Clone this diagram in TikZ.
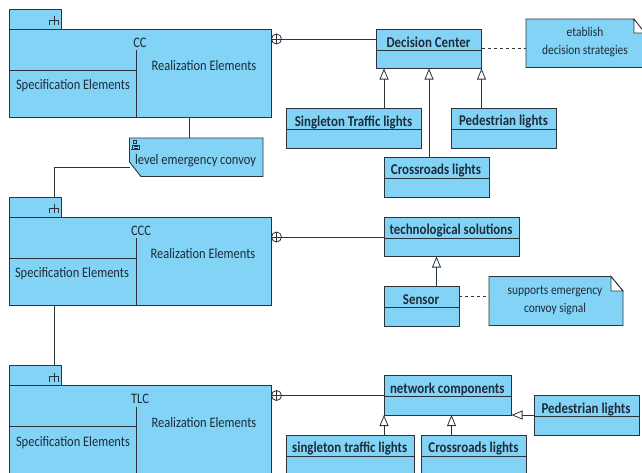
\documentclass[tikz,border=0pt]{standalone}
\usepackage{fontspec}
\setmainfont[FakeStretch=0.86]{Carlito}
\usetikzlibrary{arrows.meta,calc}
\definecolor{boxblue}{HTML}{83D3F6}
\definecolor{ink}{HTML}{2B343C}
\definecolor{txt}{HTML}{1C2C38}
\tikzset{
  x=1pt,y=-1pt,
  every node/.style={inner sep=0pt,outer sep=0pt},
  shape box/.style={draw=ink,fill=boxblue,line width=0.9pt,rectangle,anchor=north west},
  label txt/.style={font=\fontsize{14.5}{17}\selectfont,text=txt},
  title txt/.style={font=\bfseries\fontsize{15}{17}\selectfont,text=txt},
  note txt/.style={font=\fontsize{13.3}{18}\selectfont,text=txt,align=center},
  conn/.style={draw=ink,line width=0.9pt},
  dashline/.style={conn,dash pattern=on 3pt off 3pt},
  gen/.style={conn,-{Triangle[open,length=11pt,width=9pt,line width=0.8pt,fill=white]}},
  rake/.pic={\draw[ink,line width=0.8pt] (0,-4) -- (0,5) (-4.5,5) -- (-4.5,0) -- (4,0) -- (4,5);},
}
\newcommand{\component}[5]{% name, top y of tab, title, title x, realization x
  \node[shape box,minimum width=52pt,minimum height=20pt] (#1tab) at (9.5,#2) {};
  \node[shape box,minimum width=261.5pt,minimum height=88pt] (#1) at (9.5,#2+20) {};
  \pic at (54,#2+11) {rake};
  \draw[conn] (9.5,#2+61) -- (136,#2+61) (136,#2+41) -- (136,#2+108);
  \node[label txt] (#1title) at (#4,#2+33.5) {#3};
  \node[label txt] (#1real) at (#5,#2+57) {Realization Elements};
  \node[label txt] (#1spec) at (#5-131,#2+77) {Specification Elements};
}
\newcommand{\classbox}[6]{% name, x, y, width, height-to-divider, text
  \node[shape box,minimum width=#4pt,minimum height=39.5pt] (#1) at (#2,#3) {};
  \draw[conn] (#2,#3+#5) -- (#2+#4,#3+#5);
  \node[title txt] (#1text) at (#2+#4/2-0.5,#3+13.5) {#6};
}
\begin{document}
\begin{tikzpicture}
\useasboundingbox (0,0) rectangle (642,472);
\clip (0,0) rectangle (642,472);

% components
\component{cc}{9}{CC}{140}{204}
\component{ccc}{197}{CCC}{141}{203}
\component{tlc}{365.5}{TLC}{140}{204}

% classes
\classbox{dc}{376.5}{29}{105}{21}{Decision Center}
\classbox{st}{286.5}{108.5}{135}{21}{Singleton Traffic lights}
\classbox{cr}{384}{157.5}{105}{21}{Crossroads lights}
\classbox{pl}{451.5}{108.5}{105}{21}{Pedestrian lights}
\classbox{ts}{384}{217}{135}{21}{technological solutions}
\classbox{se}{384}{286.5}{75}{21}{Sensor}
\classbox{nc}{384}{375.5}{127.5}{21}{network components}
\classbox{pb}{534}{395.5}{105}{21}{Pedestrian lights}
\classbox{sb}{286.5}{435}{127.5}{21}{singleton traffic lights}
\classbox{cb}{421.5}{435}{105}{21}{Crossroads lights}

% level emergency convoy
\node[draw=none,minimum width=133.5pt,minimum height=38.5pt,anchor=north west] (lec) at (129.5,138) {};
\draw[conn,fill=boxblue] (129.5,138) -- (263,138) -- (263,176.5) -- (141,176.5) -- (129.5,162) -- cycle;
\node[label txt,anchor=west] (lectext) at (135,160.5) {level emergency convoy};
\node (lecicon) at (135,145.5) {};
\draw[ink,line width=0.7pt] (lecicon)+(-2,-5) -- +(1,-5) -- +(1,-2) -- +(-2,-2) -- cycle
  (lecicon)+(-4,4) -- +(5,4) (lecicon)+(-3,4) -- +(-3,0) -- +(4,0) -- +(4,4)
  (lecicon)+(-1,1) -- +(3,1) (lecicon)+(-1,2.5) -- +(3,2.5);

% notes
\coordinate (n1nw) at (526,19);
\coordinate (n2nw) at (489,276.5);
\draw[conn,fill=boxblue] (n1nw) -- (633,19) -- (645,33) -- (645,67.5) -- (526,67.5) -- cycle;
\draw[conn,fill=white] (634,19) -- (634,33) -- (645,33) -- cycle;
\node[note txt] (n1) at (585,42.5) {etablish\\decision strategies};
\draw[conn,fill=boxblue] (n2nw) -- (611,276.5) -- (623,291) -- (623,325.5) -- (489,325.5) -- cycle;
\draw[conn,fill=white] (611,276.5) -- (611,291) -- (623,291) -- cycle;
\node[note txt] (n2) at (555,300.5) {supports emergency\\convoy signal};

% containment connectors
\foreach \a/\b/\yy in {cc/dc/39,ccc/ts/237,tlc/nc/395.5}{
  \node[draw=ink,line width=0.8pt,circle,minimum size=10pt] (plus\a) at (276.5,\yy) {};
  \draw[ink,line width=0.8pt] (plus\a.north) -- (plus\a.south) (plus\a.west) -- (plus\a.east);
  \draw[conn] (plus\a.east) -- (plus\a.east -| \b.west);
}

% plain links
\draw[conn] (cc.south -| 189.5,0) -- (lec.north -| 189.5,0);
\draw[conn] (lec.west |- 0,167.5) -- (54.5,167.5) -- (54.5,197);
\draw[conn] (ccc.south -| 54.5,0) -- (tlctab.north -| 54.5,0);

% generalizations
\draw[gen] (st.north -| 384,0) -- (dc.south -| 384,0);
\draw[gen] (cr.north -| 429,0) -- (dc.south -| 429,0);
\draw[gen] (pl.north -| 481.5,0) -- (dc.south -| 481.5,0);
\draw[gen] (se.north -| 436.5,0) -- (ts.south -| 436.5,0);
\draw[gen] (sb.north -| 384,0) -- (nc.south -| 384,0);
\draw[gen] (cb.north -| 451.5,0) -- (nc.south -| 451.5,0);
\draw[gen] (pb.west |- 0,415) -- (nc.east |- 0,415);

% dashed note links
\draw[dashline] (dc.east |- 0,48.5) -- (n1nw |- 0,48.5);
\draw[dashline] (se.east |- 0,296.5) -- (n2nw |- 0,296.5);
\end{tikzpicture}
\end{document}
